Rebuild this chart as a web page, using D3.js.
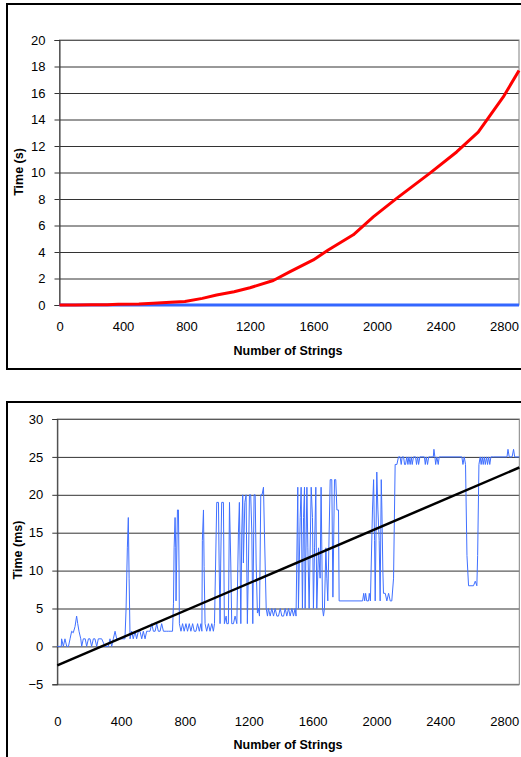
<!DOCTYPE html>
<html>
<head>
<meta charset="utf-8">
<script src="https://d3js.org/d3.v7.min.js"></script>
<style>
    html, body {
        margin: 0;
        padding: 0;
        background-color: white;
    }
    text {
        font-family: Arial, "Liberation Sans", sans-serif;
        fill: black;
    }
    .grid line {
        stroke: #333;
    }
</style>
</head>
<body>
<script>

    // DATA
    const xTicks = [0, 400, 800, 1200, 1600, 2000, 2400, 2800];
    const xMax = 2895;

    // top chart: seconds
    const yTicksTop = [0, 2, 4, 6, 8, 10, 12, 14, 16, 18, 20];
    const redSeries = [
        [0, 0], [100, 0], [200, 0.01], [300, 0.02], [370, 0.05], [500, 0.08], [591, 0.13],
        [700, 0.2], [790, 0.27], [900, 0.5], [990, 0.75], [1100, 1.0], [1200, 1.3],
        [1347, 1.85], [1450, 2.5], [1599, 3.4], [1693, 4.15], [1851, 5.3], [1977, 6.65],
        [2124, 8.05], [2334, 9.95], [2502, 11.55], [2638, 13.05], [2712, 14.3],
        [2796, 15.7], [2895, 17.7]
    ];
    const blueSeriesTop = [[0, 0], [1000, 0], [2000, 0], [2895, 0]];

    // bottom chart: milliseconds
    const yTicksBottom = [-5, 0, 5, 10, 15, 20, 25, 30];
    const blueSeriesBottom = [
        [0, 0], [25, 0], [27, 1], [38, 0], [48, 1], [59, 0], [70, 0], [80, 1], [90, 2],
        [100, 1.8], [111, 2.6], [121, 4], [128, 3], [136, 2], [147, 1], [153, 0], [163, 1],
        [175, 1], [184, 0], [195, 1], [205, 1], [215, 0], [226, 1], [236, 1], [247, 0],
        [257, 1], [278, 1], [299, 0], [320, 0], [330, 1], [341, 0], [351, 1], [362, 2],
        [372, 1], [424, 1], [431, 5], [439, 13], [445, 17], [450, 9], [456, 1],
        [466, 2], [476, 1], [487, 2], [497, 1], [508, 2], [518, 2], [529, 1], [539, 2],
        [550, 1], [560, 2], [571, 2], [581, 2], [592, 3], [602, 2], [613, 2], [623, 3],
        [633, 2], [644, 2], [654, 3], [665, 2], [675, 2], [686, 2], [696, 2], [707, 2],
        [722, 2], [728, 5.7], [732, 13], [738, 17], [742, 13], [744, 6], [753, 18],
        [759, 18], [763, 10], [765, 3],
        [775, 2], [785, 3], [795, 2], [806, 3], [816, 2], [827, 3], [837, 2], [848, 3],
        [858, 2], [869, 2], [879, 3], [890, 2], [900, 3], [906, 2], [909, 14], [916, 18],
        [920, 10.5], [926, 3], [936, 2], [947, 3], [957, 2], [968, 3], [978, 2], [985, 3],
        [999, 19], [1010, 19], [1014, 11], [1020, 3], [1024, 11], [1030, 19], [1041, 19],
        [1047, 3], [1058, 4], [1062, 3], [1072, 3], [1079, 19], [1087, 11], [1093, 3],
        [1104, 3], [1114, 4], [1125, 3], [1135, 15], [1141, 19], [1150, 3], [1156, 15],
        [1162, 20], [1166, 11], [1175, 19], [1183, 20], [1191, 3], [1198, 11], [1204, 20],
        [1212, 20], [1219, 15], [1225, 3], [1233, 20], [1240, 20], [1246, 11], [1254, 4.4],
        [1260, 5], [1267, 4], [1275, 20], [1283, 20], [1292, 21], [1298, 15], [1309, 5],
        [1317, 4], [1323, 5],
        [1334, 4], [1344, 5], [1355, 4], [1365, 5], [1376, 4], [1386, 4], [1397, 5],
        [1407, 4], [1418, 4], [1428, 5], [1438, 4], [1449, 5], [1459, 4], [1470, 5],
        [1480, 4], [1490, 5], [1496, 4],
        [1507, 21], [1511, 5], [1522, 17], [1528, 21], [1536, 5], [1543, 17], [1549, 21],
        [1553, 5], [1564, 21], [1570, 13], [1578, 5], [1591, 21], [1599, 17], [1605, 5],
        [1612, 13], [1620, 21], [1626, 5], [1637, 13], [1647, 9], [1653, 21], [1662, 5],
        [1668, 4], [1674, 5], [1683, 13], [1689, 9], [1695, 6], [1710, 22], [1720, 22],
        [1727, 6.5], [1737, 22], [1745, 22], [1752, 18], [1762, 18], [1766, 6],
        [1913, 6], [1920, 7], [1926, 6], [1932, 7], [1939, 6], [1950, 6], [1955, 7],
        [1962, 6], [1975, 18], [1982, 22], [1988, 14], [1992, 6], [2002, 23], [2009, 18],
        [2017, 14], [2023, 6], [2030, 22], [2034, 18], [2040, 10], [2044, 7], [2055, 7],
        [2065, 6], [2076, 7], [2086, 6], [2096, 6], [2107, 9], [2117, 24], [2128, 24],
        [2138, 25], [2148, 25], [2155, 24], [2161, 25], [2170, 25], [2176, 24], [2182, 24],
        [2190, 25], [2197, 24], [2203, 25], [2211, 24], [2218, 25], [2224, 24], [2232, 25],
        [2245, 25], [2251, 24], [2258, 25], [2264, 24], [2272, 25], [2285, 25], [2300, 25],
        [2306, 24], [2312, 25], [2320, 24], [2327, 25], [2340, 25], [2356, 25], [2360, 26],
        [2366, 25], [2371, 24], [2378, 25], [2387, 24], [2393, 25], [2410, 25],
        [2535, 25], [2542, 24], [2550, 25], [2558, 24], [2567, 12], [2577, 8], [2608, 8],
        [2619, 8.6], [2629, 8], [2634, 12], [2642, 24], [2650, 25], [2656, 24], [2663, 25],
        [2669, 24], [2676, 25], [2682, 24], [2690, 25], [2696, 24], [2703, 25], [2710, 24],
        [2717, 25], [2734, 25], [2818, 25], [2824, 26], [2832, 25], [2850, 25], [2859, 26],
        [2866, 25], [2895, 25]
    ];
    const trendSeries = [[0, -2.5], [2895, 23.6]];

    // LAYOUT
    const width = 521;
    const height = 757;

    const svg = d3.select("body").append("svg")
        .attr("width", width)
        .attr("height", height);

    // outer frames (right / bottom run off the page)
    svg.append("rect")
        .attr("x", 7).attr("y", 4)
        .attr("width", 530).attr("height", 365)
        .attr("fill", "none").attr("stroke", "black").attr("stroke-width", 2);

    svg.append("rect")
        .attr("x", 7).attr("y", 402)
        .attr("width", 530).attr("height", 400)
        .attr("fill", "none").attr("stroke", "black").attr("stroke-width", 2);

    function drawChart(opt) {
        const x = d3.scaleLinear().domain([0, xMax]).range([opt.left, opt.right]);
        const y = d3.scaleLinear().domain(opt.yDomain).range([opt.bottom, opt.top]);
        const g = svg.append("g");

        // horizontal gridlines
        g.append("g")
            .attr("class", "grid")
            .attr("transform", `translate(${opt.left},0)`)
            .call(d3.axisRight(y).tickValues(opt.yTicks).tickSize(opt.right - opt.left).tickFormat(""))
            .call(s => s.select(".domain").remove());

        // plot border
        g.append("rect")
            .attr("x", opt.left).attr("y", opt.top)
            .attr("width", opt.right - opt.left).attr("height", opt.bottom - opt.top)
            .attr("fill", "none").attr("stroke", "#808080");

        // y axis with ticks + labels
        const yAxis = g.append("g")
            .attr("transform", `translate(${opt.left},0)`)
            .call(d3.axisLeft(y).tickValues(opt.yTicks).tickSize(5).tickPadding(9).tickFormat(d3.format("d")));
        yAxis.select(".domain").attr("stroke", "#333");
        yAxis.selectAll(".tick line").attr("stroke", "#333");
        yAxis.selectAll("text").style("font-size", "13px").style("font-family", "Arial, sans-serif");

        // x labels, no tick marks
        const xAxis = g.append("g")
            .attr("transform", `translate(0,${opt.xLabelY})`)
            .call(d3.axisBottom(x).tickValues(xTicks).tickSize(0).tickPadding(0).tickFormat(d3.format("d")));
        xAxis.select(".domain").remove();
        xAxis.selectAll("text")
            .attr("dy", "0.35em")
            .style("font-size", "13px").style("font-family", "Arial, sans-serif");

        const line = d3.line().x(d => x(d[0])).y(d => y(d[1]));
        for (const s of opt.series) {
            g.append("path")
                .datum(s.data)
                .attr("fill", "none")
                .attr("stroke", s.color)
                .attr("stroke-width", s.width)
                .attr("stroke-linejoin", "round")
                .attr("d", line);
        }

        // axis titles
        g.append("text")
            .attr("x", 288).attr("y", opt.xTitleY)
            .attr("text-anchor", "middle").attr("dy", "0.35em")
            .style("font-size", "12.5px").style("font-weight", "bold")
            .text("Number of Strings");

        g.append("text")
            .attr("transform", `translate(${opt.yTitleX},${opt.yTitleY}) rotate(-90)`)
            .attr("text-anchor", "middle").attr("dy", "0.35em")
            .style("font-size", "12.5px").style("font-weight", "bold")
            .text(opt.yTitle);
    }

    drawChart({
        left: 59.5, right: 519, top: 40, bottom: 305,
        yDomain: [0, 20], yTicks: yTicksTop,
        xLabelY: 326, xTitleY: 351,
        yTitle: "Time (s)", yTitleX: 19, yTitleY: 172,
        series: [
            { data: blueSeriesTop, color: "#3366ff", width: 3 },
            { data: redSeries, color: "#ff0000", width: 3 }
        ]
    });

    drawChart({
        left: 57.3, right: 519.3, top: 419, bottom: 684.3,
        yDomain: [-5, 30], yTicks: yTicksBottom,
        xLabelY: 721, xTitleY: 745,
        yTitle: "Time (ms)", yTitleX: 17.5, yTitleY: 550,
        series: [
            { data: blueSeriesBottom, color: "#4070ff", width: 1 },
            { data: trendSeries, color: "black", width: 2.5 }
        ]
    });

</script>
</body>
</html>
